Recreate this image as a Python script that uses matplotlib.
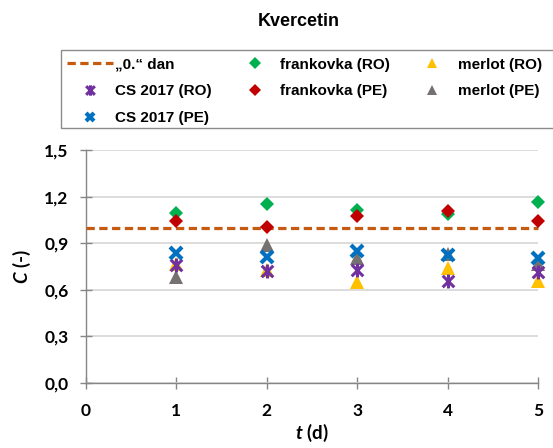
import matplotlib
matplotlib.use("Agg")
import matplotlib.pyplot as plt
from matplotlib.path import Path
from matplotlib.patches import Rectangle

# ---- data ----
days = [1, 2, 3, 4, 5]
ref_days = [0, 1, 2, 3, 4, 5]
ref_values = [1.0, 1.0, 1.0, 1.0, 1.0, 1.0]
cs_ro = [0.76, 0.72, 0.73, 0.655, 0.715]
cs_pe = [0.835, 0.81, 0.853, 0.822, 0.806]
frank_ro = [1.095, 1.155, 1.113, 1.09, 1.166]
frank_pe = [1.043, 1.005, 1.073, 1.105, 1.043]
merlot_ro = [0.765, 0.73, 0.648, 0.742, 0.655]
merlot_pe = [0.68, 0.886, 0.806, 0.833, 0.765]
yticks = [0.0, 0.3, 0.6, 0.9, 1.2, 1.5]
ytick_labels = ["0,0", "0,3", "0,6", "0,9", "1,2", "1,5"]
xticks = [0, 1, 2, 3, 4, 5]
labels = ["\u201e0.\u201c dan", "CS 2017 (RO)", "CS 2017 (PE)", "frankovka (RO)",
          "frankovka (PE)", "merlot (RO)", "merlot (PE)"]

plt.rcParams['mathtext.fontset'] = 'custom'
plt.rcParams['mathtext.it'] = 'Lato:italic:bold'
plt.rcParams['mathtext.rm'] = 'Lato:bold'

fig = plt.figure(figsize=(5.53, 4.48), dpi=100)
ax = fig.add_axes([86/553, 1-383/448, (538-86)/553, (383-150)/448])

# star marker: X plus vertical line
star = Path([(-0.5, -0.5), (0.5, 0.5), (-0.5, 0.5), (0.5, -0.5), (0, -0.6), (0, 0.6)],
            [Path.MOVETO, Path.LINETO, Path.MOVETO, Path.LINETO, Path.MOVETO, Path.LINETO])

h_ref, = ax.plot(ref_days, ref_values, color='#C55A11', lw=2.3,
                 linestyle=(0, (2.6, 1.4)), zorder=3, clip_on=False)
h_fro, = ax.plot(days, frank_ro, 'D', color='#00B050', ms=7.5, mew=0, zorder=4, clip_on=False, linestyle='none')
h_fpe, = ax.plot(days, frank_pe, 'D', color='#C00000', ms=7.5, mew=0, zorder=4, clip_on=False, linestyle='none')
h_mro, = ax.plot(days, merlot_ro, '^', color='#FFC000', ms=10, mew=0, zorder=4, clip_on=False, linestyle='none')
h_mpe, = ax.plot(days, merlot_pe, '^', color='#767171', ms=10, mew=0, zorder=4, clip_on=False, linestyle='none')
h_cro, = ax.plot(days, cs_ro, marker=star, color='#7030A0', ms=10, mew=2.2, zorder=5,
                 clip_on=False, linestyle='none')
h_cpe, = ax.plot(days, cs_pe, 'x', color='#0070C0', ms=8.5, mew=3, zorder=5, clip_on=False, linestyle='none')

ax.set_xlim(0, 5)
ax.set_ylim(0, 1.5)
ax.set_yticks(yticks)
ax.set_yticklabels(ytick_labels)
ax.set_xticks(xticks)
ax.yaxis.grid(True, color='#D9D9D9', lw=1.3)
ax.set_axisbelow(True)
for s in ['top', 'right']:
    ax.spines[s].set_visible(False)
for s in ['left', 'bottom']:
    ax.spines[s].set_color('#868686')
    ax.spines[s].set_linewidth(1.0)
ax.tick_params(axis='both', direction='inout', length=9, width=1, color='#868686')
ax.tick_params(axis='y', pad=8)
ax.tick_params(axis='x', pad=10)
for lab in ax.get_xticklabels() + ax.get_yticklabels():
    lab.set_fontfamily('Lato')
    lab.set_fontweight('bold')
    lab.set_fontsize(12.5)

ax.set_xlabel(r'$t$ (d)', fontfamily='Lato', fontweight='bold', fontsize=13.5, labelpad=2)
ax.set_ylabel(r'$C$ (-)', fontfamily='Lato', fontweight='bold', fontsize=13.5, labelpad=8)

fig.text(299/553, 1-22/448, 'Kvercetin', ha='center', va='center',
         fontfamily='Liberation Sans', fontweight='bold', fontsize=13)

# legend frame
fig.patches.append(Rectangle((61/553, 1-128/448), 600/553, 78/448, transform=fig.transFigure,
                             fill=False, edgecolor='#8C8C8C', lw=1.0))
handles = [h_ref, h_cro, h_cpe, h_fro, h_fpe, h_mro, h_mpe]
leg = fig.legend(handles, labels, ncol=3, loc='upper left',
                 bbox_to_anchor=(67/553, 1-57.5/448), frameon=False,
                 prop={'family': 'Liberation Sans', 'weight': 'bold', 'size': 11},
                 handlelength=3.0, handletextpad=0.15, columnspacing=1.3,
                 labelspacing=0.84, borderpad=0, borderaxespad=0, markerscale=0.75)

fig.savefig('out.png', dpi=100)
